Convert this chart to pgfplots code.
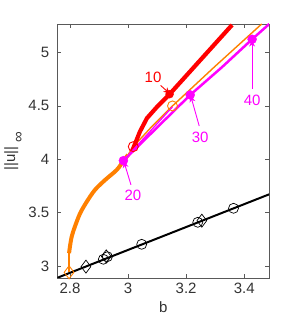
\documentclass[border=0pt]{standalone}
\usepackage{pgfplots}
\pgfplotsset{compat=1.18}
\usetikzlibrary{arrows.meta}
\usepackage{fontspec}
\setmainfont{Liberation Sans}
\definecolor{myorange}{RGB}{255,128,0}
\definecolor{mymag}{RGB}{255,0,255}
\begin{document}
\fontsize{15}{17}\selectfont
\begin{tikzpicture}
\begin{axis}[name=ax,
  scale only axis, width=212pt, height=254pt,
  xmin=2.757, xmax=3.486, ymin=2.89, ymax=5.265,
  xtick={2.8,3,3.2,3.4}, ytick={3,3.5,4,4.5,5},
  xticklabels={2.8,3,3.2,3.4}, yticklabels={3,3.5,4,4.5,5},
  /pgf/number format/assume math mode=true,
  tick align=inside, major tick length=4pt,
  axis line style={black!65}, tick style={black!65},
  xlabel={b}, ylabel={||u||\hspace{4pt}\raisebox{-8pt}{∞}},
  xlabel style={yshift=2pt},
  ylabel style={yshift=-5pt},
  yticklabel style={xshift=-3pt},
  tick label style={font=\fontsize{15}{17}\selectfont, black!80},
  label style={font=\fontsize{15}{17}\selectfont, black!80},
  clip=true,
]
% black branch
\addplot[black, line width=2pt] coordinates {(2.70,2.829) (3.50,3.686)};
\addplot[only marks, mark=o, mark size=5pt, black, line width=0.7pt] coordinates {
(2.915,3.063) (2.929,3.087) (3.047,3.203) (3.240,3.409) (3.363,3.540)};
\addplot[only marks, mark=diamond, mark size=6.5pt, black, line width=0.7pt] coordinates {
(2.855,2.994) (2.925,3.090) (3.254,3.424)};
% orange thin lower stub
\addplot[myorange, line width=2pt] coordinates {(2.797,2.941) (2.797,3.13)};
% orange thick
\addplot[myorange, line width=4pt, smooth] coordinates {
(2.797,3.12) (2.800,3.181) (2.806,3.274) (2.817,3.368) (2.835,3.493)
(2.858,3.602) (2.886,3.712) (2.921,3.805) (2.961,3.899) (2.984,3.983) (3.000,4.04)};
% orange thin
\addplot[myorange, line width=1.4pt] coordinates {
(3.000,4.04) (3.018,4.117) (3.080,4.30) (3.153,4.498) (3.300,4.87) (3.460,5.265)};
\addplot[only marks, mark=diamond, mark size=6.5pt, myorange, line width=0.9pt] coordinates {(2.797,2.941)};
% red thick
\addplot[red, line width=4.2pt] coordinates {
(3.013,4.07) (3.025,4.15) (3.041,4.258) (3.065,4.383) (3.100,4.49) (3.143,4.608) (3.358,5.256)};
\addplot[only marks, mark=o, mark size=5pt, red, line width=0.9pt] coordinates {(3.018,4.117)};
\addplot[only marks, mark=*, mark size=4pt, red] coordinates {(3.143,4.608)};
% magenta
\addplot[mymag, line width=1.3pt] coordinates {(2.984,3.986) (3.153,4.49)};
\addplot[mymag, line width=2.5pt] coordinates {
(2.984,3.986) (3.214,4.601) (3.323,4.86) (3.427,5.122) (3.486,5.265)};
\addplot[only marks, mark=o, mark size=5pt, myorange, line width=0.9pt] coordinates {(3.153,4.498)};
\addplot[only marks, mark=*, mark size=4.5pt, mymag] coordinates {
(2.984,3.986) (3.214,4.601) (3.427,5.122)};
% annotations
\draw[red, line width=0.9pt, -{Stealth[length=6pt,width=6pt]}] (axis cs:3.112,4.69) -- (axis cs:3.143,4.615);
\node[red, font=\fontsize{15}{17}\selectfont] at (axis cs:3.086,4.77) {10};
\draw[mymag, line width=0.9pt, -{Stealth[length=6pt,width=6pt]}] (axis cs:3.010,3.76) -- (axis cs:2.986,3.975);
\node[mymag, font=\fontsize{15}{17}\selectfont] at (axis cs:3.017,3.665) {20};
\draw[mymag, line width=0.9pt, -{Stealth[length=6pt,width=6pt]}] (axis cs:3.245,4.31) -- (axis cs:3.216,4.590);
\node[mymag, font=\fontsize{15}{17}\selectfont] at (axis cs:3.248,4.20) {30};
\draw[mymag, line width=0.9pt, -{Stealth[length=6pt,width=6pt]}] (axis cs:3.427,4.66) -- (axis cs:3.427,5.11);
\node[mymag, font=\fontsize{15}{17}\selectfont] at (axis cs:3.427,4.555) {40};
\end{axis}
\pgfresetboundingbox
\path ([xshift=-57.5pt,yshift=-49.3pt]ax.south west) rectangle ([xshift=28.5pt,yshift=24pt]ax.north east);
\end{tikzpicture}
\end{document}
